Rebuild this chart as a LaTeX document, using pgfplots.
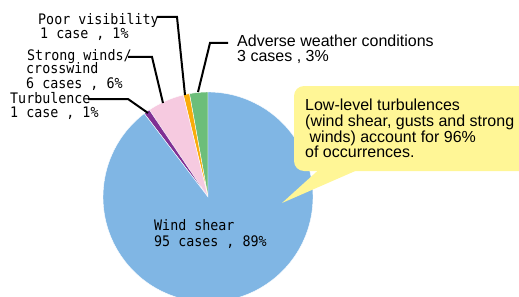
\documentclass[border=0pt]{standalone}
\usepackage{pgfplots}
\pgfplotsset{compat=1.18}
\usepackage{fontspec}
\setmainfont{Liberation Sans}
\newfontfamily\monofont[FakeStretch=0.92]{DejaVu Sans Mono}
\definecolor{cblue}{RGB}{128,182,228}
\definecolor{cpink}{RGB}{246,202,224}
\definecolor{cpurple}{RGB}{128,48,148}
\definecolor{corange}{RGB}{250,172,10}
\definecolor{cgreen}{RGB}{108,190,122}
\definecolor{cyellow}{RGB}{255,246,150}
\begin{document}
\begin{tikzpicture}
\path[use as bounding box] (0,0) rectangle (519bp,297bp);
% data: cases per category
\def\vA{3}  % Adverse weather conditions
\def\vB{1}  % Poor visibility
\def\vC{6}  % Strong winds / crosswind
\def\vD{1}  % Turbulence
\def\vE{95} % Wind shear
\pgfmathsetmacro\tot{\vA+\vB+\vC+\vD+\vE}
\pgfmathsetmacro\aA{90+\vA/\tot*360}
\pgfmathsetmacro\aB{\aA+\vB/\tot*360}
\pgfmathsetmacro\aC{\aB+\vC/\tot*360}
\pgfmathsetmacro\aD{\aC+\vD/\tot*360}
\pgfmathsetmacro\aE{\aD+\vE/\tot*360}
\begin{axis}[at={(0,0)},anchor=south west,hide axis,scale only axis,
  width=519bp,height=297bp,xmin=0,xmax=519,ymin=0,ymax=297,y dir=reverse,clip=true]
\addplot[draw=none] coordinates {(0,0) (519,297)};
\def\R{105bp}
\fill[cgreen,draw=white,line width=0.4bp] (axis cs:208,197) -- ++(90:\R) arc[start angle=90,end angle=\aA,radius=\R] -- cycle;
\fill[corange,draw=white,line width=0.4bp] (axis cs:208,197) -- ++(\aA:\R) arc[start angle=\aA,end angle=\aB,radius=\R] -- cycle;
\fill[cpink,draw=white,line width=0.4bp] (axis cs:208,197) -- ++(\aB:\R) arc[start angle=\aB,end angle=\aC,radius=\R] -- cycle;
\fill[cpurple,draw=white,line width=0.4bp] (axis cs:208,197) -- ++(\aC:\R) arc[start angle=\aC,end angle=\aD,radius=\R] -- cycle;
\fill[cblue,draw=white,line width=0.4bp] (axis cs:208,197) -- ++(\aD:\R) arc[start angle=\aD,end angle=\aE,radius=\R] -- cycle;
% callout
\fill[cyellow,rounded corners=10bp] (axis cs:294,86) rectangle (axis cs:545,171);
\fill[cyellow] (axis cs:324,165) -- (axis cs:282,203) -- (axis cs:369,165) -- cycle;
% leader lines
\draw[line width=2bp] (axis cs:157,17) -- (axis cs:177,17) -- (axis cs:185,95);
\draw[line width=2bp] (axis cs:128,57) -- (axis cs:152,57) -- (axis cs:163,103);
\draw[line width=2bp] (axis cs:88,99) -- (axis cs:128,99) -- (axis cs:148,113);
\draw[line width=2bp] (axis cs:228,43) -- (axis cs:210,43) -- (axis cs:198,92);
% mono labels
\tikzset{ml/.style={anchor=base west,inner sep=0pt,font=\monofont\fontsize{14.5bp}{14bp}\selectfont}}
\node[ml] at (axis cs:38,24.3) {Poor visibility};
\node[ml] at (axis cs:40,38.3) {1 case , 1\%};
\node[ml] at (axis cs:27,60) {Strong winds/};
\node[ml] at (axis cs:26,73.5) {crosswind};
\node[ml] at (axis cs:26,88.5) {6 cases , 6\%};
\node[ml] at (axis cs:10,103) {Turbulence};
\node[ml] at (axis cs:10,117) {1 case , 1\%};
\node[ml] at (axis cs:154,230.7) {Wind shear};
\node[ml] at (axis cs:154,246) {95 cases , 89\%};
% proportional labels
\tikzset{pl/.style={anchor=base west,inner sep=0pt,font=\fontsize{16bp}{15.5bp}\selectfont}}
\node[pl] at (axis cs:237,46) {Adverse weather conditions};
\node[pl] at (axis cs:237,61.5) {3 cases , 3\%};
\node[pl] at (axis cs:305,110.7) {Low-level turbulences};
\node[pl] at (axis cs:305,126.5) {(wind shear, gusts and strong};
\node[pl] at (axis cs:305,142) {\ winds) account for 96\%};
\node[pl] at (axis cs:305,157.5) {of occurrences.};
\end{axis}
\end{tikzpicture}
\end{document}
